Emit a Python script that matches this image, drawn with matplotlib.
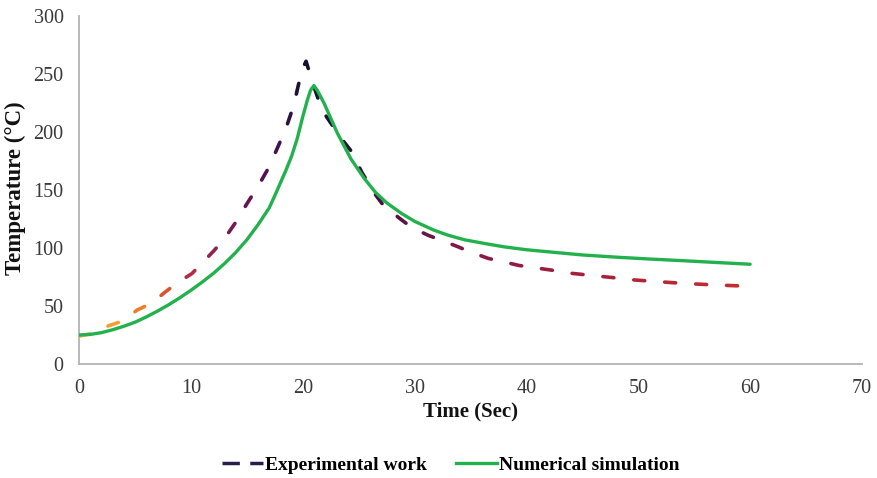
import numpy as np
import matplotlib
matplotlib.use('Agg')
import matplotlib.pyplot as plt
from matplotlib.collections import LineCollection
from matplotlib.colors import LinearSegmentedColormap
from matplotlib.lines import Line2D

# ---------------- data ----------------
exp_time = [0, 1.5, 2.6, 3.9, 5.2, 6.5, 7.7, 8.8, 10.1, 11.1, 12, 13, 14, 15, 16,
            17, 18, 18.6, 19.2, 19.6, 20.0, 20.3, 20.8, 21.4, 22, 22.7, 23.4, 24.3, 25.3,
            26.5, 27.2, 28.6, 29.7, 31.2, 32.3, 33.9, 35, 36.6, 38, 39.3, 40.7, 42.2,
            43.7, 45.2, 46.7, 48.2, 49.6, 51, 52.5, 54, 55.5, 56.8, 58.3, 60]
exp_temp = [24, 27, 32.8, 37, 46.5, 52.5, 62, 70, 78, 88, 97, 108, 122, 138, 153,
            170, 192, 206, 223, 240, 255, 261, 245, 228, 215, 205, 195, 184, 165,
            146, 137, 126, 118, 111, 107, 101, 96.5, 91, 88, 85, 83, 81,
            78.5, 77, 75.5, 74, 72.5, 71.5, 70.5, 69.5, 68.8, 68.2, 67.6, 67]

sim_time = [0, 1, 2, 3, 4, 5, 6, 7, 8, 9, 10, 11, 12, 13, 14, 15, 16, 17, 17.5,
            18, 18.5, 19, 19.5, 20, 20.4, 20.7, 21, 21.3, 21.9, 22.5, 23.1, 23.7,
            24.3, 25, 25.5, 26.5, 27.5, 28.8, 30, 31.7, 33, 34.5, 36.2, 38, 40,
            42.2, 45, 48.2, 51, 54.1, 57, 60]
sim_temp = [25, 25.5, 27, 29.5, 32.5, 36, 40.5, 45.5, 51, 57, 63.5, 70.5, 78, 86.5,
            96, 107, 120, 134.5, 145, 156, 167, 179, 194, 213, 227, 236, 240, 236,
            225, 212, 199, 188, 177, 167, 160, 148, 139, 130, 123, 115.5, 111,
            107, 104, 101, 98.5, 96.5, 94, 92, 90.5, 89, 87.5, 86]

x_ticks = [0, 10, 20, 30, 40, 50, 60, 70]
y_ticks = [0, 50, 100, 150, 200, 250, 300]
legend_labels = ["Experimental work", "Numerical simulation"]

# ---------------- figure ----------------
W, H = 877, 478
fig = plt.figure(figsize=(W / 100, H / 100), dpi=100)
ax = fig.add_axes([79 / W, 1 - 364 / H, (862 - 79) / W, (364 - 16) / H])
ax.set_xlim(0, 70)
ax.set_ylim(0, 300)

serif = ['Liberation Serif', 'DejaVu Serif']

for side in ['top', 'right']:
    ax.spines[side].set_visible(False)
for side in ['left', 'bottom']:
    ax.spines[side].set_color('#b3b3b3')
    ax.spines[side].set_linewidth(1.3)

ax.set_xticks(x_ticks)
ax.set_yticks(y_ticks)
ax.tick_params(axis='both', length=0, labelsize=14.5, labelcolor='#3a3a3a')
ax.tick_params(axis='x', pad=11)
ax.tick_params(axis='y', pad=11)
for lab in ax.get_xticklabels() + ax.get_yticklabels():
    lab.set_family(serif)

ax.set_xlabel('Time (Sec)', family=serif, fontweight='bold', fontsize=15, color='#111111')
ax.set_ylabel('Temperature (°C)', family=serif, fontweight='bold', fontsize=16.5, color='#111111')
ax.xaxis.label.set_va('center')
ax.yaxis.label.set_va('center')
ax.xaxis.set_label_coords(0.5, (364 - 411) / 348)
ax.yaxis.set_label_coords((15 - 79) / 783, 0.505)

# simulation line
ax.plot(sim_time, sim_temp, color='#22b14c', lw=2.4, solid_capstyle='round',
        solid_joinstyle='round', zorder=4)

# experimental dashed line with colour gradient
cmap = LinearSegmentedColormap.from_list('exp', [
    (0.0, '#f2b632'), (0.05, '#f0a030'), (0.1, '#e8762a'), (0.133, '#d44a30'),
    (0.167, '#b02a48'), (0.233, '#721555'), (0.3, '#3a1250'), (0.333, '#15122e'),
    (0.383, '#1a1538'), (0.45, '#4a1045'), (0.583, '#881a45'), (0.75, '#a5203c'),
    (1.0, '#c4302c')])

fig.canvas.draw()
pts = ax.transData.transform(np.column_stack([exp_time, exp_temp]))
seg = np.hypot(*np.diff(pts, axis=0).T)
s = np.concatenate([[0], np.cumsum(seg)])
dash_on, dash_off = 11.0, 20.0
inv = ax.transData.inverted()
segments, colors = [], []
for s0 in np.arange(0, s[-1], dash_on + dash_off):
    s1 = min(s0 + dash_on, s[-1])
    ss = np.concatenate([[s0], s[(s > s0) & (s < s1)], [s1]])
    xs = np.interp(ss, s, pts[:, 0])
    ys = np.interp(ss, s, pts[:, 1])
    segments.append(inv.transform(np.column_stack([xs, ys])))
    tm = np.interp((s0 + s1) / 2, s, exp_time)
    colors.append(cmap(tm / 60.0))
lc = LineCollection(segments, colors=colors, linewidths=2.6, capstyle='round',
                    joinstyle='round', zorder=3)
ax.add_collection(lc)

# legend
handles = [Line2D([], [], color='#2b1c4e', lw=2.5, linestyle=(0, (5, 3))),
           Line2D([], [], color='#22b14c', lw=2.4)]
fig.legend(handles, legend_labels, loc='center', bbox_to_anchor=(0.514, 0.027),
           ncol=2, frameon=False, handlelength=2.1, handletextpad=0.1,
           columnspacing=1.5, prop={'family': serif, 'weight': 'bold', 'size': 14})

fig.savefig('out.png', dpi=100)
